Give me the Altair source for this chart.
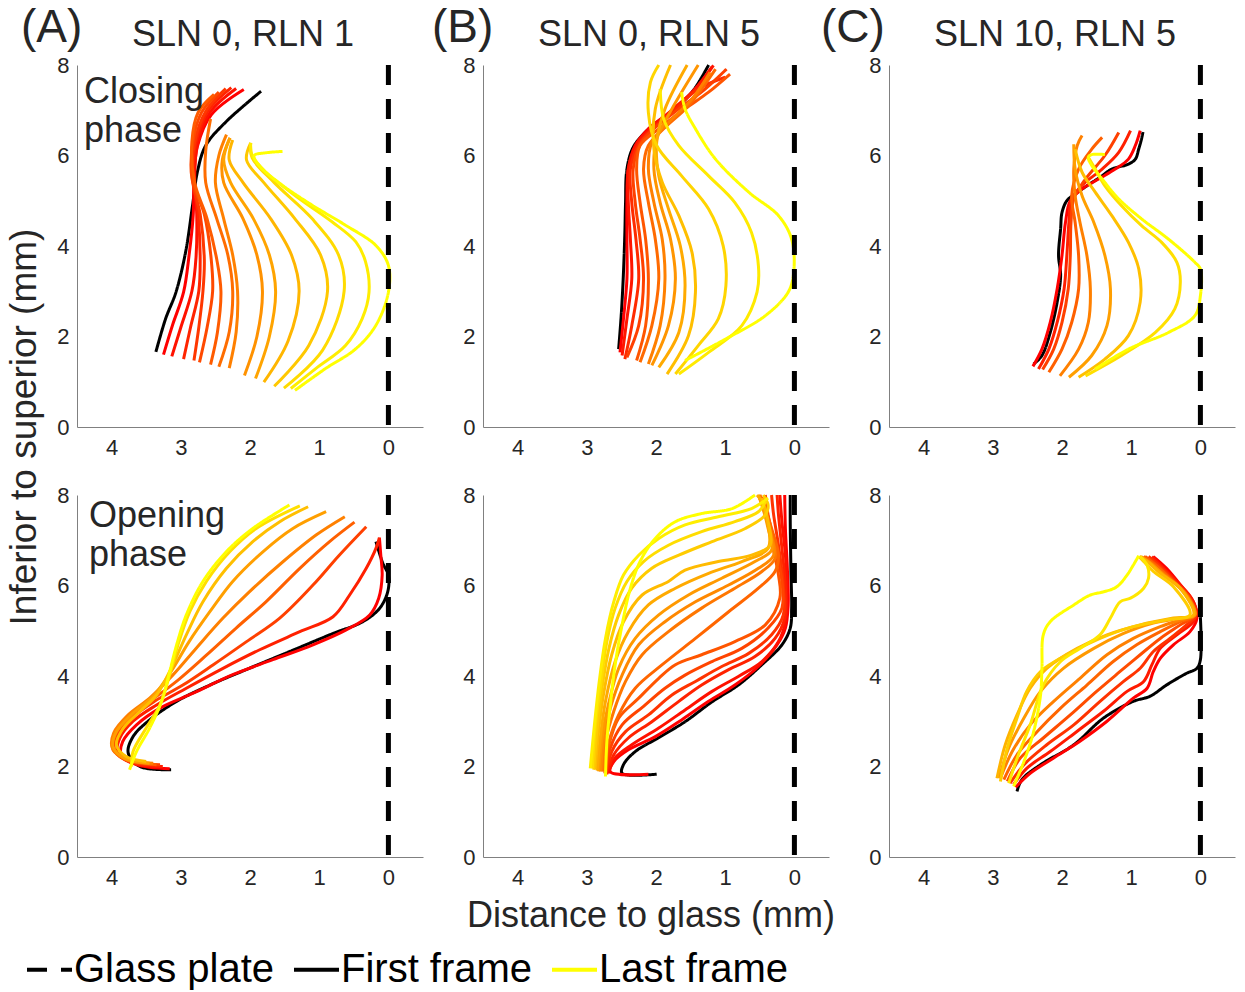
import altair as alt
import pandas as pd

FONT = "Liberation Sans"
GRAY = "#262626"

# ---------------- (A) SLN 0, RLN 1 -- closing phase ----------------
A_CL_FIRST_X = [3.36, 3.22, 3.07, 2.93, 2.83, 2.76, 2.64, 2.35, 1.84]
A_CL_FIRST_Y = [1.66, 2.39, 2.98, 3.87, 4.90, 5.64, 6.22, 6.74, 7.42]
A_CL_X = [
    [3.25, 3.12, 2.96, 2.88, 2.82, 2.81, 2.76, 2.56, 2.09],
    [3.13, 3.00, 2.84, 2.78, 2.77, 2.80, 2.76, 2.58, 2.20],
    [2.96, 2.86, 2.74, 2.72, 2.75, 2.82, 2.78, 2.60, 2.27],
    [2.81, 2.74, 2.68, 2.66, 2.72, 2.83, 2.80, 2.63, 2.35],
    [2.73, 2.62, 2.54, 2.56, 2.66, 2.84, 2.82, 2.70, 2.45],
    [2.57, 2.47, 2.42, 2.48, 2.62, 2.80, 2.84, 2.75, 2.52],
    [2.45, 2.30, 2.25, 2.32, 2.48, 2.64, 2.64, 2.57],
    [2.30, 2.20, 2.18, 2.25, 2.38, 2.50, 2.45, 2.34],
    [2.08, 1.90, 1.82, 1.90, 2.10, 2.38, 2.40, 2.29],
    [1.92, 1.72, 1.63, 1.72, 1.95, 2.28, 2.38, 2.29],
    [1.80, 1.45, 1.29, 1.40, 1.70, 2.10, 2.30, 2.25],
    [1.65, 1.15, 0.88, 0.98, 1.35, 1.80, 2.05, 1.99],
    [1.51, 0.95, 0.64, 0.72, 1.10, 1.65, 1.97, 1.99],
    [1.41, 1.05, 0.62, 0.38, 0.28, 0.33, 0.47, 0.81, 1.29, 1.77, 1.97, 1.99],
    [1.35, 0.91, 0.47, 0.18, 0.00, 0.00, 0.18, 0.62, 1.10, 1.53, 1.87, 1.94, 1.77, 1.53],
]
A_CL_Y = [
    [1.60, 2.25, 2.98, 3.80, 4.70, 5.45, 6.20, 6.90, 7.46],
    [1.56, 2.20, 3.00, 3.75, 4.70, 5.45, 6.25, 6.95, 7.48],
    [1.50, 2.20, 3.00, 3.70, 4.70, 5.50, 6.30, 7.00, 7.50],
    [1.47, 2.20, 3.00, 3.70, 4.70, 5.45, 6.30, 7.00, 7.48],
    [1.43, 2.20, 3.00, 3.70, 4.70, 5.50, 6.35, 6.95, 7.40],
    [1.38, 2.10, 3.00, 3.70, 4.60, 5.40, 6.30, 6.95, 7.35],
    [1.33, 2.10, 3.00, 3.80, 4.60, 5.40, 6.10, 6.81],
    [1.30, 2.10, 3.00, 3.80, 4.60, 5.40, 6.00, 6.46],
    [1.14, 2.00, 3.00, 3.80, 4.60, 5.40, 5.90, 6.39],
    [1.07, 2.00, 3.00, 3.80, 4.60, 5.40, 5.90, 6.39],
    [0.99, 1.90, 3.00, 3.80, 4.60, 5.40, 5.90, 6.34],
    [0.90, 1.80, 3.00, 3.80, 4.60, 5.40, 5.90, 6.28],
    [0.86, 1.70, 3.00, 3.80, 4.60, 5.40, 5.95, 6.28],
    [0.85, 1.29, 1.80, 2.39, 2.98, 3.65, 4.09, 4.53, 5.05, 5.63, 6.00, 6.28],
    [0.81, 1.29, 1.73, 2.25, 2.98, 3.57, 4.01, 4.46, 4.90, 5.34, 5.78, 6.00, 6.06, 6.09],
]

# ---------------- (B) SLN 0, RLN 5 -- closing phase ----------------
B_CL_FIRST_X = [2.54, 2.50, 2.47, 2.45, 2.44, 2.42, 2.33, 2.13, 1.79, 1.48, 1.24]
B_CL_FIRST_Y = [1.72, 2.53, 3.42, 4.30, 4.96, 5.70, 6.18, 6.55, 6.95, 7.40, 8.00]
B_CL_X = [
    [2.52, 2.47, 2.42, 2.42, 2.42, 2.40, 2.30, 2.11, 1.77, 1.46, 1.19],
    [2.49, 2.42, 2.35, 2.37, 2.40, 2.40, 2.28, 2.06, 1.75, 1.43, 1.17],
    [2.45, 2.35, 2.25, 2.29, 2.35, 2.37, 2.25, 2.03, 1.72, 1.39, 1.00],
    [2.42, 2.25, 2.18, 2.23, 2.30, 2.33, 2.23, 2.01, 1.67, 1.29, 0.98],
    [2.28, 2.15, 2.11, 2.15, 2.23, 2.28, 2.23, 1.96, 1.58, 1.24, 0.93],
    [2.23, 2.06, 1.96, 2.01, 2.11, 2.18, 2.11, 1.87, 1.53, 1.14],
    [2.11, 1.94, 1.87, 1.91, 2.03, 2.11, 2.06, 1.82, 1.48, 1.22],
    [2.06, 1.82, 1.72, 1.79, 1.94, 2.03, 1.99, 1.77, 1.39],
    [1.96, 1.67, 1.58, 1.65, 1.82, 1.96, 1.99, 1.87, 1.55],
    [1.84, 1.53, 1.43, 1.48, 1.67, 1.91, 2.03, 2.01, 1.79],
    [1.72, 1.39, 1.10, 0.99, 1.03, 1.24, 1.63, 1.99, 2.11, 2.08, 1.96],
    [1.67, 1.24, 0.76, 0.54, 0.52, 0.62, 0.86, 1.24, 1.67, 1.89, 1.94],
    [1.58, 1.00, 0.42, 0.09, 0.01, 0.04, 0.23, 0.66, 1.14, 1.43, 1.58, 1.63],
]
B_CL_Y = [
    [1.65, 2.39, 3.27, 4.15, 4.96, 5.70, 6.22, 6.59, 6.99, 7.43, 7.96],
    [1.58, 2.39, 3.27, 4.15, 4.96, 5.70, 6.25, 6.62, 7.03, 7.47, 7.99],
    [1.50, 2.24, 3.27, 4.15, 4.96, 5.70, 6.25, 6.62, 7.03, 7.47, 7.73],
    [1.54, 2.24, 3.27, 4.15, 4.96, 5.70, 6.25, 6.62, 7.03, 7.47, 7.91],
    [1.47, 2.24, 3.27, 4.15, 4.96, 5.70, 6.22, 6.59, 7.03, 7.40, 7.80],
    [1.43, 2.24, 3.27, 4.15, 4.96, 5.70, 6.22, 6.62, 7.10, 7.91],
    [1.39, 2.24, 3.27, 4.15, 4.96, 5.70, 6.29, 6.73, 7.25, 7.84],
    [1.36, 2.24, 3.27, 4.15, 4.96, 5.70, 6.36, 7.03, 8.00],
    [1.32, 2.09, 3.12, 4.01, 4.82, 5.55, 6.29, 7.03, 8.00],
    [1.17, 2.02, 2.98, 3.86, 4.67, 5.41, 6.14, 7.03, 8.00],
    [1.17, 1.80, 2.39, 3.12, 4.01, 4.82, 5.55, 6.22, 6.95, 7.62, 8.00],
    [1.17, 1.65, 2.24, 2.98, 3.56, 4.30, 4.96, 5.55, 6.22, 6.81, 7.47],
    [1.47, 1.94, 2.46, 2.98, 3.42, 4.15, 4.67, 5.19, 5.92, 6.59, 7.03, 7.40],
]

# ---------------- (C) SLN 10, RLN 5 -- closing phase ----------------
C_CL_FIRST_X = [2.41, 2.29, 2.17, 2.07, 2.02, 2.05, 2.02, 2.00, 1.93, 1.81, 1.64, 1.45,
                1.28, 1.04, 0.94, 0.89, 0.85, 0.83]
C_CL_FIRST_Y = [1.39, 1.58, 2.09, 2.76, 3.35, 3.79, 4.38, 4.74, 5.00, 5.15, 5.33, 5.52,
                5.70, 5.81, 5.92, 6.15, 6.37, 6.52]
C_CL_X = [
    [2.42, 2.29, 2.17, 2.07, 2.00, 1.95, 1.88, 1.71, 1.47, 1.23, 1.04, 0.94, 0.87],
    [2.34, 2.19, 2.07, 1.97, 1.93, 1.90, 1.86, 1.69, 1.42, 1.18, 1.01],
    [2.28, 2.12, 2.00, 1.91, 1.88, 1.87, 1.83, 1.66, 1.38, 1.18],
    [2.19, 2.00, 1.86, 1.76, 1.76, 1.81, 1.86, 1.76, 1.57, 1.42],
    [2.03, 1.76, 1.62, 1.59, 1.64, 1.74, 1.81, 1.83, 1.78, 1.71],
    [1.90, 1.57, 1.35, 1.30, 1.38, 1.54, 1.71, 1.81, 1.83],
    [1.76, 1.38, 1.04, 0.87, 0.89, 1.04, 1.28, 1.52, 1.71, 1.81],
    [1.66, 1.14, 0.65, 0.37, 0.29, 0.34, 0.56, 0.85, 1.14, 1.38, 1.52, 1.62],
    [1.52, 1.04, 0.46, 0.08, 0.00, 0.00, 0.08, 0.46, 0.85, 1.18, 1.42, 1.57, 1.62, 1.57, 1.38],
]
C_CL_Y = [
    [1.34, 1.72, 2.31, 3.05, 3.79, 4.52, 5.00, 5.26, 5.48, 5.70, 5.92, 6.22, 6.55],
    [1.28, 1.72, 2.31, 3.05, 3.79, 4.52, 5.04, 5.37, 5.70, 6.07, 6.55],
    [1.27, 1.72, 2.31, 3.05, 3.79, 4.52, 5.04, 5.48, 6.00, 6.51],
    [1.21, 1.72, 2.31, 3.05, 3.79, 4.52, 5.11, 5.70, 6.14, 6.40],
    [1.13, 1.72, 2.31, 3.05, 3.79, 4.52, 5.11, 5.70, 6.22, 6.44],
    [1.10, 1.58, 2.24, 3.05, 3.79, 4.52, 5.11, 5.70, 6.25],
    [1.10, 1.50, 2.02, 2.76, 3.49, 4.08, 4.67, 5.19, 5.63, 6.14],
    [1.13, 1.58, 2.09, 2.61, 3.20, 3.64, 4.08, 4.45, 4.89, 5.33, 5.70, 5.96],
    [1.28, 1.72, 2.09, 2.46, 2.90, 3.49, 3.64, 4.15, 4.60, 5.04, 5.48, 5.78, 5.96, 6.02, 6.02],
]

# ---------------- (A) opening phase ----------------
A_OP_FIRST_X = [3.14, 3.59, 3.76, 3.69, 3.45, 3.06, 2.58, 2.01, 1.38, 0.80, 0.37, 0.13,
                0.01, 0.00, 0.08, 0.18]
A_OP_FIRST_Y = [1.93, 2.00, 2.30, 2.66, 3.03, 3.44, 3.80, 4.17, 4.57, 4.94, 5.20, 5.49,
                5.86, 6.23, 6.49, 6.97]
A_OP_X = [
    [3.16, 3.64, 3.86, 3.84, 3.64, 3.30, 2.82, 2.25, 1.67, 1.09, 0.61, 0.27, 0.14, 0.09, 0.11, 0.13],
    [3.26, 3.69, 3.91, 3.88, 3.69, 3.35, 2.92, 2.39, 1.86, 1.28, 0.80, 0.56, 0.32, 0.18, 0.13],
    [3.30, 3.74, 3.95, 3.93, 3.71, 3.38, 2.97, 2.53, 2.05, 1.57, 1.09, 0.71, 0.32],
    [3.35, 3.76, 3.98, 3.95, 3.74, 3.42, 3.04, 2.63, 2.20, 1.77, 1.28, 0.85, 0.49],
    [3.40, 3.79, 3.99, 3.97, 3.76, 3.45, 3.11, 2.78, 2.39, 2.01, 1.52, 1.04, 0.63],
    [3.45, 3.81, 3.98, 3.93, 3.69, 3.40, 3.14, 2.88, 2.58, 2.25, 1.81, 1.38, 0.90],
    [3.50, 3.79, 3.93, 3.83, 3.59, 3.35, 3.14, 2.92, 2.68, 2.34, 1.96, 1.57, 1.16],
    [3.71, 3.69, 3.50, 3.30, 3.16, 3.04, 2.87, 2.63, 2.29, 1.91, 1.28],
    [3.74, 3.64, 3.45, 3.28, 3.16, 3.06, 2.92, 2.68, 2.34, 1.96, 1.43],
]
A_OP_Y = [
    [1.95, 2.04, 2.26, 2.55, 2.92, 3.29, 3.62, 4.03, 4.36, 4.69, 5.02, 5.35, 5.72, 6.23, 6.67, 7.06],
    [2.00, 2.07, 2.29, 2.63, 3.00, 3.36, 3.73, 4.17, 4.58, 4.98, 5.31, 5.79, 6.38, 6.82, 7.06],
    [2.04, 2.11, 2.33, 2.66, 3.07, 3.44, 3.80, 4.25, 4.76, 5.28, 6.01, 6.67, 7.30],
    [2.04, 2.15, 2.37, 2.70, 3.11, 3.47, 3.91, 4.46, 5.06, 5.64, 6.38, 6.97, 7.40],
    [2.07, 2.15, 2.41, 2.74, 3.14, 3.51, 4.03, 4.61, 5.28, 5.86, 6.53, 7.12, 7.52],
    [2.07, 2.18, 2.44, 2.77, 3.18, 3.55, 4.10, 4.76, 5.42, 6.09, 6.75, 7.26, 7.63],
    [2.11, 2.22, 2.48, 2.85, 3.22, 3.58, 4.17, 4.91, 5.64, 6.38, 6.97, 7.41, 7.74],
    [2.00, 2.33, 2.85, 3.36, 4.03, 4.69, 5.42, 6.09, 6.75, 7.26, 7.76],
    [1.93, 2.33, 2.85, 3.43, 4.10, 4.69, 5.35, 6.09, 6.75, 7.26, 7.78],
]

# ---------------- (B) opening phase ----------------
B_OP_FIRST_X = [1.99, 2.49, 2.47, 2.30, 1.97, 1.58, 1.19, 0.81, 0.47, 0.18, 0.06, 0.04, 0.05, 0.06, 0.06]
B_OP_FIRST_Y = [1.83, 1.85, 2.04, 2.33, 2.63, 2.99, 3.43, 3.80, 4.25, 4.69, 5.06, 5.50, 6.31, 7.41, 8.00]
B_OP_X = [
    [2.11, 2.66, 2.61, 2.40, 2.01, 1.63, 1.24, 0.86, 0.52, 0.25, 0.13, 0.09, 0.10, 0.13, 0.14],
    [2.69, 2.59, 2.35, 1.96, 1.58, 1.19, 0.81, 0.47, 0.23, 0.13, 0.11, 0.13, 0.18, 0.21],
    [2.71, 2.61, 2.40, 2.06, 1.67, 1.34, 0.95, 0.57, 0.28, 0.14, 0.13, 0.18, 0.23, 0.25],
    [2.72, 2.64, 2.44, 2.11, 1.77, 1.43, 1.05, 0.66, 0.33, 0.16, 0.16, 0.23, 0.30, 0.33],
    [2.73, 2.66, 2.49, 2.18, 1.87, 1.58, 1.19, 0.76, 0.38, 0.18, 0.18, 0.28, 0.38, 0.42],
    [2.74, 2.68, 2.54, 2.25, 1.96, 1.72, 1.34, 0.86, 0.42, 0.21, 0.23, 0.33, 0.42, 0.47],
    [2.76, 2.68, 2.54, 2.30, 1.91, 1.43, 0.95, 0.52, 0.28, 0.23, 0.33, 0.42, 0.50],
    [2.78, 2.73, 2.61, 2.44, 2.20, 1.82, 1.34, 0.86, 0.47, 0.28, 0.33, 0.42, 0.50],
    [2.80, 2.76, 2.66, 2.49, 2.25, 1.87, 1.43, 0.95, 0.52, 0.30, 0.35, 0.45, 0.52],
    [2.83, 2.78, 2.69, 2.54, 2.30, 1.96, 1.53, 1.05, 0.57, 0.33, 0.38, 0.47, 0.52],
    [2.85, 2.80, 2.73, 2.59, 2.40, 2.11, 1.72, 1.24, 0.76, 0.38, 0.38, 0.47, 0.54],
    [2.88, 2.83, 2.76, 2.64, 2.47, 2.20, 1.82, 1.58, 1.10, 0.62, 0.35, 0.38, 0.47],
    [2.90, 2.85, 2.78, 2.68, 2.54, 2.35, 2.06, 1.67, 1.19, 0.71, 0.42, 0.38, 0.45],
    [2.92, 2.88, 2.80, 2.71, 2.59, 2.42, 2.18, 1.82, 1.34, 0.86, 0.52, 0.42],
    [2.95, 2.89, 2.82, 2.73, 2.61, 2.47, 2.25, 1.96, 1.58, 1.10, 0.62, 0.38],
    [2.73, 2.71, 2.66, 2.59, 2.49, 2.37, 2.23, 2.01, 1.72, 1.34, 0.90, 0.57],
]
B_OP_Y = [
    [1.83, 1.88, 2.11, 2.37, 2.66, 3.03, 3.44, 3.80, 4.21, 4.69, 5.06, 5.57, 6.31, 7.26, 8.00],
    [1.85, 2.19, 2.48, 2.85, 3.25, 3.66, 3.99, 4.32, 4.76, 5.20, 5.94, 6.67, 7.41, 8.00],
    [1.83, 2.26, 2.63, 2.99, 3.44, 3.80, 4.14, 4.43, 4.83, 5.28, 5.94, 6.82, 7.56, 8.00],
    [1.83, 2.33, 2.77, 3.14, 3.58, 3.88, 4.21, 4.50, 4.91, 5.35, 6.01, 6.89, 7.56, 8.00],
    [1.85, 2.41, 2.92, 3.33, 3.73, 4.02, 4.32, 4.61, 5.06, 5.50, 6.09, 6.89, 7.56, 8.00],
    [1.85, 2.48, 3.07, 3.51, 3.95, 4.25, 4.47, 4.76, 5.13, 5.72, 6.23, 6.97, 7.63, 7.96],
    [1.89, 2.55, 3.14, 3.73, 4.25, 4.83, 5.42, 5.94, 6.31, 6.67, 7.26, 7.70, 8.00],
    [1.89, 2.55, 3.22, 3.88, 4.47, 4.98, 5.50, 5.94, 6.31, 6.60, 7.12, 7.63, 8.00],
    [1.89, 2.55, 3.29, 4.02, 4.69, 5.20, 5.64, 6.01, 6.38, 6.67, 7.19, 7.70, 8.00],
    [1.89, 2.63, 3.36, 4.17, 4.83, 5.35, 5.79, 6.16, 6.53, 6.78, 7.26, 7.78, 8.00],
    [1.91, 2.70, 3.44, 4.32, 4.98, 5.57, 5.94, 6.27, 6.53, 6.82, 7.34, 7.85, 8.00],
    [1.93, 2.77, 3.58, 4.47, 5.20, 5.79, 6.09, 6.34, 6.53, 6.67, 6.89, 7.41, 7.93],
    [1.93, 2.85, 3.73, 4.61, 5.35, 5.94, 6.38, 6.67, 6.97, 7.26, 7.56, 7.78, 8.00],
    [1.96, 2.85, 3.80, 4.76, 5.50, 6.09, 6.53, 6.89, 7.19, 7.41, 7.63, 7.85],
    [1.96, 2.92, 3.88, 4.83, 5.64, 6.23, 6.67, 7.04, 7.34, 7.52, 7.70, 7.93],
    [1.78, 2.55, 3.36, 4.25, 5.13, 5.94, 6.53, 7.04, 7.41, 7.59, 7.70, 8.00],
]

# ---------------- (C) opening phase ----------------
C_OP_FIRST_X = [2.65, 2.58, 2.31, 1.83, 1.40, 0.97, 0.73, 0.49, 0.20, 0.05, 0.00, 0.00]
C_OP_FIRST_Y = [1.45, 1.71, 2.04, 2.48, 3.07, 3.44, 3.55, 3.80, 4.06, 4.17, 4.36, 5.30]
C_OP_X = [
    [2.67, 2.46, 2.12, 1.74, 1.35, 0.97, 0.77, 0.68, 0.58, 0.39, 0.15, 0.05, 0.10, 0.25, 0.49, 0.68],
    [2.70, 2.51, 2.17, 1.78, 1.40, 1.06, 0.82, 0.70, 0.58, 0.34, 0.10, 0.06, 0.13, 0.29, 0.53, 0.70],
    [2.75, 2.55, 2.22, 1.83, 1.45, 1.11, 0.87, 0.68, 0.44, 0.20, 0.06, 0.15, 0.34, 0.58, 0.75],
    [2.79, 2.60, 2.27, 1.88, 1.50, 1.16, 0.87, 0.58, 0.29, 0.08, 0.17, 0.39, 0.63, 0.80],
    [2.84, 2.65, 2.36, 2.02, 1.64, 1.26, 0.92, 0.58, 0.29, 0.08, 0.20, 0.44, 0.68, 0.82],
    [2.89, 2.72, 2.46, 2.12, 1.74, 1.35, 0.97, 0.58, 0.29, 0.08, 0.22, 0.49, 0.73, 0.85],
    [2.91, 2.77, 2.55, 2.31, 1.98, 1.54, 1.11, 0.68, 0.29, 0.08, 0.25, 0.53, 0.75, 0.87],
    [2.94, 2.82, 2.65, 2.46, 2.22, 1.78, 1.35, 0.87, 0.39, 0.10, 0.29, 0.58, 0.77, 0.88],
    [2.89, 2.79, 2.65, 2.51, 2.31, 1.93, 1.45, 0.97, 0.49, 0.15, 0.39, 0.68, 0.82, 0.89],
    [2.77, 2.63, 2.46, 2.27, 2.02, 1.74, 1.45, 1.30, 1.16, 1.01, 0.82, 0.75, 0.77, 0.87],
    [2.70, 2.55, 2.41, 2.31, 2.29, 2.27, 2.17, 1.83, 1.59, 1.40, 1.21, 1.06, 0.97, 0.89],
]
C_OP_Y = [
    [1.54, 1.85, 2.19, 2.56, 3.00, 3.51, 3.73, 4.10, 4.39, 4.69, 4.98, 5.28, 5.64, 5.94, 6.38, 6.64],
    [1.60, 1.96, 2.33, 2.78, 3.22, 3.66, 3.88, 4.25, 4.61, 4.91, 5.20, 5.42, 5.72, 6.01, 6.38, 6.64],
    [1.63, 2.04, 2.48, 2.92, 3.44, 3.88, 4.17, 4.54, 4.83, 5.13, 5.35, 5.72, 6.05, 6.42, 6.64],
    [1.67, 2.19, 2.63, 3.14, 3.66, 4.10, 4.47, 4.83, 5.13, 5.35, 5.75, 6.09, 6.45, 6.64],
    [1.71, 2.26, 2.77, 3.29, 3.80, 4.32, 4.69, 4.98, 5.20, 5.35, 5.79, 6.16, 6.49, 6.64],
    [1.74, 2.33, 2.92, 3.44, 3.95, 4.47, 4.83, 5.09, 5.24, 5.35, 5.83, 6.20, 6.49, 6.64],
    [1.74, 2.41, 3.07, 3.66, 4.17, 4.61, 4.94, 5.17, 5.28, 5.35, 5.86, 6.23, 6.53, 6.64],
    [1.74, 2.48, 3.14, 3.73, 4.17, 4.61, 4.91, 5.13, 5.28, 5.35, 5.94, 6.27, 6.53, 6.64],
    [1.67, 2.41, 3.07, 3.66, 4.10, 4.47, 4.83, 5.09, 5.24, 5.35, 5.97, 6.31, 6.53, 6.64],
    [1.63, 2.26, 2.92, 3.80, 4.32, 4.61, 4.91, 5.28, 5.64, 5.72, 5.94, 6.16, 6.45, 6.64],
    [1.56, 2.11, 2.77, 3.58, 4.17, 4.91, 5.20, 5.57, 5.79, 5.86, 5.97, 6.23, 6.45, 6.66],
]

X_TICKS = [0, 1, 2, 3, 4]
Y_TICKS = [0, 2, 4, 6, 8]
KINDS = ["Glass plate", "First frame", "Last frame"]

LEG = alt.Legend(
    title=None, orient="none", legendX=-52, legendY=880, direction="horizontal",
    labelFont=FONT, labelFontSize=40, labelColor="black", labelOffset=0,
    symbolType="stroke", symbolSize=2025, symbolStrokeWidth=4, columnPadding=11,
    labelLimit=400,
)
COLOR = alt.Color("kind:N", scale=alt.Scale(domain=KINDS, range=["#000000", "#000000", "#ffff00"]), legend=LEG)
DASH = alt.StrokeDash("kind:N", scale=alt.Scale(domain=KINDS, range=[[20, 14], [1, 0], [1, 0]]), legend=LEG)

XENC = alt.X("x:Q", scale=alt.Scale(domain=[-0.5, 4.5], reverse=True, nice=False, zero=False),
             axis=alt.Axis(values=X_TICKS, title=None))
YENC = alt.Y("y:Q", scale=alt.Scale(domain=[0, 8], nice=False, zero=False),
             axis=alt.Axis(values=Y_TICKS, title=None))

LINE = dict(strokeWidth=3, interpolate="catmull-rom", strokeJoin="round")


def txt(text, x, y, size, align="left", angle=0, baseline="alphabetic", color=GRAY, line_height=None):
    kw = dict(text=text, font=FONT, fontSize=size, color=color, align=align, baseline=baseline, angle=angle)
    if line_height is not None:
        kw["lineHeight"] = line_height
    return alt.Chart(pd.DataFrame({"a": [0]})).mark_text(**kw).encode(x=alt.value(x), y=alt.value(y))


def panel(first_x, first_y, xs, ys, texts):
    n = len(xs)
    first = pd.DataFrame({"x": first_x, "y": first_y, "i": list(range(len(first_x))), "kind": "First frame"})
    rows = []
    for k in range(n - 1):
        for i, (xv, yv) in enumerate(zip(xs[k], ys[k])):
            rows.append({"x": xv, "y": yv, "i": i, "frame": k, "t": k / (n - 1)})
    mids = pd.DataFrame(rows)
    last = pd.DataFrame({"x": xs[-1], "y": ys[-1], "i": list(range(len(xs[-1]))), "kind": "Last frame"})
    glass = pd.DataFrame({"x": [0.0], "y": [8.0], "y2": [0.0], "kind": ["Glass plate"]})

    l_first = alt.Chart(first).mark_line(**LINE).encode(
        x=XENC, y=YENC, order="i:Q", color=COLOR, strokeDash=DASH)
    l_mid = alt.Chart(mids).mark_line(**LINE).encode(
        x=XENC, y=YENC, order="i:Q", detail="frame:N",
        stroke=alt.Stroke("t:Q", scale=alt.Scale(domain=[0, 1], range=["#ff0000", "#ffff00"], interpolate="rgb"),
                          legend=None))
    l_last = alt.Chart(last).mark_line(**LINE).encode(
        x=XENC, y=YENC, order="i:Q", color=COLOR, strokeDash=DASH)
    l_glass = alt.Chart(glass).mark_rule(strokeWidth=5).encode(
        x=XENC, y=YENC, y2="y2:Q", color=COLOR, strokeDash=DASH)
    return alt.layer(l_first, l_mid, l_last, l_glass, *texts).properties(width=346, height=362)


pA1 = panel(A_CL_FIRST_X, A_CL_FIRST_Y, A_CL_X, A_CL_Y, [
    txt("(A)", -56, -23, 46),
    txt("SLN 0, RLN 1", 166, -19, 36, align="center"),
    txt(["Closing", "phase"], 7, 38, 36, line_height=39),
    txt("Inferior to superior (mm)", -52, 362, 37, align="center", angle=270, baseline="middle"),
])
pB1 = panel(B_CL_FIRST_X, B_CL_FIRST_Y, B_CL_X, B_CL_Y, [
    txt("(B)", -51, -23, 46),
    txt("SLN 0, RLN 5", 166, -19, 36, align="center"),
])
pC1 = panel(C_CL_FIRST_X, C_CL_FIRST_Y, C_CL_X, C_CL_Y, [
    txt("(C)", -68, -23, 46),
    txt("SLN 10, RLN 5", 166, -19, 36, align="center"),
])
pA2 = panel(A_OP_FIRST_X, A_OP_FIRST_Y, A_OP_X, A_OP_Y, [
    txt(["Opening", "phase"], 12, 32, 36, line_height=39),
])
pB2 = panel(B_OP_FIRST_X, B_OP_FIRST_Y, B_OP_X, B_OP_Y, [
    txt("Distance to glass (mm)", 168, 432, 36, align="center"),
])
pC2 = panel(C_OP_FIRST_X, C_OP_FIRST_Y, C_OP_X, C_OP_Y, [])

chart = alt.concat(pA1, pB1, pC1, pA2, pB2, pC2, columns=3,
                   spacing={"row": 68, "column": 60}, bounds="flush")
chart = chart.properties(padding={"left": 6, "top": 5, "right": 9, "bottom": 10})
chart = (chart.configure_view(stroke=None)
         .configure_axis(domainColor="#808080", domainWidth=1, ticks=False, grid=False,
                         labelFont=FONT, labelFontSize=22, labelColor=GRAY)
         .configure_axisX(labelPadding=10)
         .configure_axisY(labelPadding=8))

chart.save("out.html", embed_options={"renderer": "svg", "actions": False})
